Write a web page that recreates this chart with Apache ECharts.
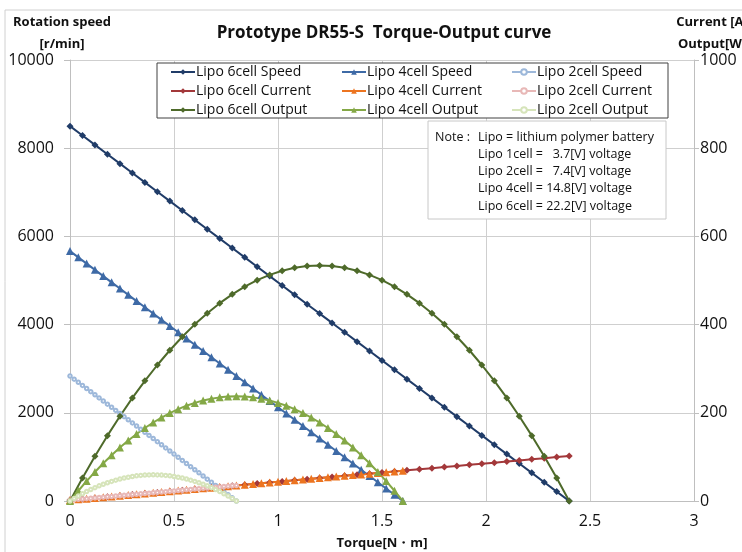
<!DOCTYPE html>
<html>
<head>
<meta charset="utf-8">
<script src="https://cdn.jsdelivr.net/npm/echarts@6/dist/echarts.min.js"></script>
<style>
html,body{margin:0;padding:0;background:#fff;}
#chart{width:742px;height:552px;}
</style>
</head>
<body>
<div id="chart"></div>
<script>
// ---- data ----
var torque6 = [0,0.06,0.12,0.18,0.24,0.30,0.36,0.42,0.48,0.54,0.60,0.66,0.72,0.78,0.84,0.90,0.96,1.02,1.08,1.14,1.20,1.26,1.32,1.38,1.44,1.50,1.56,1.62,1.68,1.74,1.80,1.86,1.92,1.98,2.04,2.10,2.16,2.22,2.28,2.34,2.40];
var torque4 = [0,0.04,0.08,0.12,0.16,0.20,0.24,0.28,0.32,0.36,0.40,0.44,0.48,0.52,0.56,0.60,0.64,0.68,0.72,0.76,0.80,0.84,0.88,0.92,0.96,1.00,1.04,1.08,1.12,1.16,1.20,1.24,1.28,1.32,1.36,1.40,1.44,1.48,1.52,1.56,1.60];
var torque2 = [0,0.02,0.04,0.06,0.08,0.10,0.12,0.14,0.16,0.18,0.20,0.22,0.24,0.26,0.28,0.30,0.32,0.34,0.36,0.38,0.40,0.42,0.44,0.46,0.48,0.50,0.52,0.54,0.56,0.58,0.60,0.62,0.64,0.66,0.68,0.70,0.72,0.74,0.76,0.78,0.80];

var speed6 = [8500,8288,8075,7863,7650,7438,7225,7013,6800,6588,6375,6163,5950,5738,5525,5313,5100,4888,4675,4463,4250,4038,3825,3613,3400,3188,2975,2763,2550,2338,2125,1913,1700,1488,1275,1063,850,638,425,213,0];
var speed4 = [5667,5525,5383,5242,5100,4958,4817,4675,4533,4392,4250,4108,3967,3825,3683,3542,3400,3258,3117,2975,2833,2692,2550,2408,2267,2125,1983,1842,1700,1558,1417,1275,1133,992,850,708,567,425,283,142,0];
var speed2 = [2833,2763,2692,2621,2550,2479,2408,2338,2267,2196,2125,2054,1983,1913,1842,1771,1700,1629,1558,1488,1417,1346,1275,1204,1133,1063,992,921,850,779,708,638,567,496,425,354,283,213,142,71,0];

var current6 = [2,4.5,7,9.5,12,14.5,17,19.5,22,24.5,27,29.5,32,34.5,37,39.5,42,44.5,47,49.5,52,54.5,57,59.5,62,64.5,67,69.5,72,74.5,77,79.5,82,84.5,87,89.5,92,94.5,97,99.5,102];
var current4 = [2,3.7,5.3,7,8.7,10.3,12,13.7,15.3,17,18.7,20.3,22,23.7,25.3,27,28.7,30.3,32,33.7,35.3,37,38.7,40.3,42,43.7,45.3,47,48.7,50.3,52,53.7,55.3,57,58.7,60.3,62,63.7,65.3,67,68.7];
var current2 = [2,2.8,3.7,4.5,5.3,6.2,7,7.8,8.7,9.5,10.3,11.2,12,12.8,13.7,14.5,15.3,16.2,17,17.8,18.7,19.5,20.3,21.2,22,22.8,23.7,24.5,25.3,26.2,27,27.8,28.7,29.5,30.3,31.2,32,32.8,33.7,34.5,35.3];

var output6 = [0,52.1,101.5,148.2,192.3,233.7,272.4,308.4,341.8,372.5,400.6,425.9,448.6,468.6,486.0,500.7,512.7,522.1,528.7,532.7,534.1,532.7,528.7,522.1,512.7,500.7,486.0,468.6,448.6,425.9,400.6,372.5,341.8,308.4,272.4,233.7,192.3,148.2,101.5,52.1,0];
var output4 = [0,23.2,45.1,65.9,85.5,103.9,121.1,137.1,151.9,165.6,178.0,189.3,199.4,208.3,216.0,222.5,227.9,232.0,235.0,236.8,237.4,236.8,235.0,232.0,227.9,222.5,216.0,208.3,199.4,189.3,178.0,165.6,151.9,137.1,121.1,103.9,85.5,65.9,45.1,23.2,0];
var output2 = [0,5.8,11.3,16.5,21.4,26.0,30.3,34.3,38.0,41.4,44.5,47.3,49.8,52.1,54.0,55.6,57.0,58.0,58.7,59.2,59.3,59.2,58.7,58.0,57.0,55.6,54.0,52.1,49.8,47.3,44.5,41.4,38.0,34.3,30.3,26.0,21.4,16.5,11.3,5.8,0];

var seriesNames = ['Lipo 6cell Speed','Lipo 4cell Speed','Lipo 2cell Speed',
                   'Lipo 6cell Current','Lipo 4cell Current','Lipo 2cell Current',
                   'Lipo 6cell Output','Lipo 4cell Output','Lipo 2cell Output'];
var titleText = 'Prototype DR55-S  Torque-Output curve';
var leftAxisName = 'Rotation speed\n[r/min]';
var rightAxisName = 'Current [A]\nOutput[W]';
var xAxisName = 'Torque[N・m]';
var noteLabels = ['Note :','','','',''];
var noteLines = ['Lipo = lithium polymer battery','Lipo 1cell =   3.7[V] voltage','Lipo 2cell =   7.4[V] voltage','Lipo 4cell = 14.8[V] voltage','Lipo 6cell = 22.2[V] voltage'];

function pairs(xs, ys){ return xs.map(function(x,i){ return [x, ys[i]]; }); }

var FONT = "'Open Sans', 'Noto Sans', sans-serif";

function mk(name, xs, ys, yIdx, color, symbol, size, width, z){
  return {
    name: name, type: 'line', yAxisIndex: yIdx,
    data: pairs(xs, ys),
    symbol: symbol, symbolSize: size, showSymbol: true,
    lineStyle: {color: color, width: width},
    itemStyle: {color: color, borderColor: color, borderWidth: symbol === 'emptyCircle' ? 1 : 0},
    emphasis: {disabled: true},
    animation: false, z: z
  };
}

var cN='#203C68', cB='#3E6AA6', cLB='#9DB8DA';
var cR='#A3383A', cO='#EC7420', cP='#E8B8B7';
var cG='#4E6A2A', cLG='#84A846', cPG='#D6E4BA';

var series = [
  mk(seriesNames[0], torque6, speed6, 0, cN, 'diamond', 7, 2, 3),
  mk(seriesNames[1], torque4, speed4, 0, cB, 'triangle', 8, 2, 3),
  mk(seriesNames[2], torque2, speed2, 0, cLB, 'emptyCircle', 3.5, 1.5, 3),
  mk(seriesNames[3], torque6, current6, 1, cR, 'diamond', 7, 2, 3),
  mk(seriesNames[4], torque4, current4, 1, cO, 'triangle', 8, 2, 3),
  mk(seriesNames[5], torque2, current2, 1, cP, 'emptyCircle', 3.5, 1.5, 3),
  mk(seriesNames[6], torque6, output6, 1, cG, 'diamond', 7, 2, 3),
  mk(seriesNames[7], torque4, output4, 1, cLG, 'triangle', 8, 2, 3),
  mk(seriesNames[8], torque2, output2, 1, cPG, 'emptyCircle', 3.5, 1.5, 3)
];

function legendCol(left, names){
  return {
    orient: 'vertical', left: left, top: 65, itemGap: 5,
    itemWidth: 24, itemHeight: 7,
    padding: 0,
    data: names,
    textStyle: {fontFamily: FONT, fontSize: 14, color: '#111', padding: [0,0,0,-4]},
    selectedMode: false
  };
}

var noteGraphics = [];
for (var i=0;i<noteLines.length;i++){
  noteGraphics.push({type:'text', x: 435, y: 137 + i*17.3, z: 20,
    style:{text: noteLabels[i], font: '12.5px '+FONT, fill:'#111', textVerticalAlign:'middle'}});
  noteGraphics.push({type:'text', x: 478, y: 137 + i*17.3, z: 20,
    style:{text: noteLines[i], font: '12.5px '+FONT, fill:'#111', textVerticalAlign:'middle'}});
}

var chart = echarts.init(document.getElementById('chart'), null, {renderer:'canvas'});
chart.setOption({
  backgroundColor: '#fff',
  animation: false,
  title: {text: titleText, left: 379, top: 20, textAlign: 'center',
    textStyle: {fontFamily: FONT, fontSize: 17, fontWeight: 'bold', color: '#111'}},
  grid: {left: 70, right: 48, top: 60, bottom: 51, containLabel: false, outerBoundsMode: 'none'},
  legend: [
    legendCol(170, [seriesNames[0], seriesNames[3], seriesNames[6]]),
    legendCol(341, [seriesNames[1], seriesNames[4], seriesNames[7]]),
    legendCol(511, [seriesNames[2], seriesNames[5], seriesNames[8]])
  ],
  xAxis: {
    type: 'value', min: 0, max: 3, interval: 0.5,
    name: xAxisName, nameLocation: 'middle', nameGap: 36,
    nameTextStyle: {fontFamily: FONT, fontSize: 13, fontWeight: 'bold', color: '#111'},
    axisLine: {show: true, lineStyle: {color: '#bfbfbf'}},
    axisTick: {show: false},
    axisLabel: {fontFamily: FONT, fontSize: 16, color: '#111', margin: 12},
    splitLine: {show: true, lineStyle: {color: '#cfcfcf'}}
  },
  yAxis: [
    {type: 'value', min: 0, max: 10000, interval: 2000, position: 'left',
     axisLine: {show: true, lineStyle: {color: '#bfbfbf'}},
     axisTick: {show: true, length: 6, lineStyle: {color: '#bfbfbf'}},
     axisLabel: {fontFamily: FONT, fontSize: 16, color: '#111', margin: 16,
       formatter: function(v){ return String(v); }},
     splitLine: {show: true, lineStyle: {color: '#cfcfcf'}}},
    {type: 'value', min: 0, max: 1000, interval: 200, position: 'right',
     axisLine: {show: true, lineStyle: {color: '#bfbfbf'}},
     axisTick: {show: true, length: 5, lineStyle: {color: '#bfbfbf'}},
     axisLabel: {fontFamily: FONT, fontSize: 16, color: '#111', margin: 6,
       formatter: function(v){ return String(v); }},
     splitLine: {show: false}}
  ],
  graphic: [
    {type:'rect', shape:{x:5, y:10, width:900, height:700}, style:{fill:'none', stroke:'#d0d0d0', lineWidth:1}, z:0, silent:true},
    {type:'rect', shape:{x:157, y:63, width:511, height:55}, style:{fill:'#fff', stroke:'#404040', lineWidth:1}, z:0.5, silent:true},
    {type:'rect', shape:{x:428, y:121, width:238, height:98}, style:{fill:'#fff', stroke:'#c8c8c8', lineWidth:1}, z:19, silent:true},
    {type:'text', x: 62, y: 33, z: 20,
     style:{text: leftAxisName, font:'bold 13px '+FONT, fill:'#111', textAlign:'center', textVerticalAlign:'middle', lineHeight: 22}},
    {type:'text', x: 712, y: 33, z: 20,
     style:{text: rightAxisName, font:'bold 13px '+FONT, fill:'#111', textAlign:'center', textVerticalAlign:'middle', lineHeight: 22}}
  ].concat(noteGraphics),
  series: series
});
</script>
</body>
</html>
